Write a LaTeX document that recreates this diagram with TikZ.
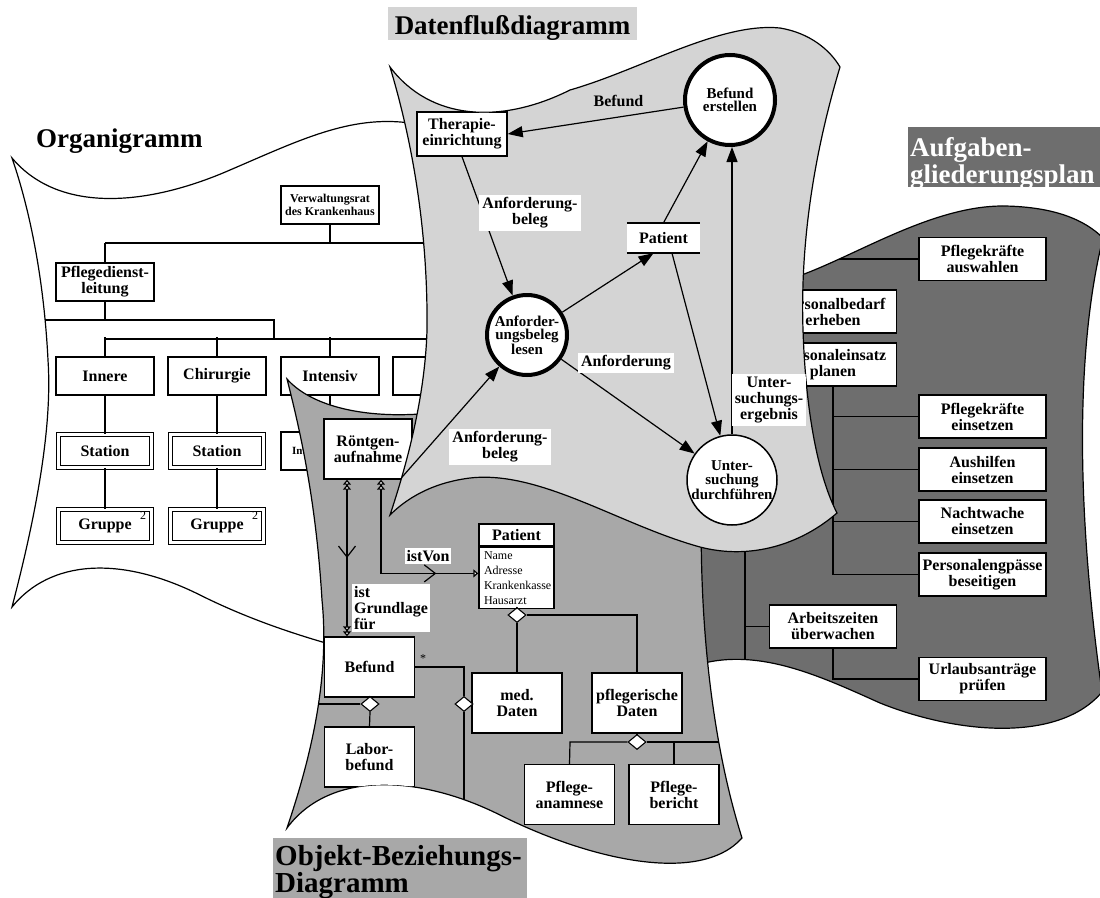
\documentclass[tikz,border=0pt]{standalone}
\usepackage{fontspec}
\setmainfont{Liberation Serif}
\usetikzlibrary{arrows.meta,shapes.geometric,decorations.markings}

\definecolor{dfgrey}{gray}{0.83}
\definecolor{obgrey}{gray}{0.66}
\definecolor{aggrey}{gray}{0.43}

\newcommand{\fsz}[2]{\fontsize{#1}{#2}\selectfont}

% outlines of the four sheets
\newcommand{\orgsheet}{(12,158) .. controls (60,215) and (150,205) .. (230,170) .. controls (300,140) and (350,115) .. (410,123) -- (450,130) -- (450,600) -- (340,647) .. controls (300,636) and (250,620) .. (200,595) .. controls (120,555) and (50,560) .. (12,607) .. controls (40,500) and (52,420) .. (48,360) .. controls (44,280) and (30,210) .. (12,158) -- cycle}
\newcommand{\agsheet}{(680,340) -- (790,279) .. controls (850,260) and (930,205) .. (1005,206) .. controls (1055,207) and (1085,220) .. (1103,238) .. controls (1080,330) and (1072,480) .. (1102,692) .. controls (1060,742) and (960,735) .. (880,703) .. controls (820,676) and (760,648) .. (700,664) -- (680,664) -- cycle}
\newcommand{\obsheet}{(287,379) .. controls (310,405) and (360,418) .. (420,414) -- (702,480) .. controls (698,600) and (708,730) .. (742,838) .. controls (700,885) and (590,860) .. (500,815) .. controls (420,775) and (330,770) .. (287,828) .. controls (310,760) and (330,680) .. (322,600) .. controls (316,500) and (300,430) .. (287,379) -- cycle}
\newcommand{\dfsheet}{(390,67) .. controls (430,120) and (500,125) .. (570,90) .. controls (640,70) and (720,22) .. (780,28) .. controls (810,33) and (830,50) .. (840,67) .. controls (815,150) and (800,240) .. (803,330) .. controls (806,420) and (820,480) .. (837,513) .. controls (800,545) and (750,560) .. (700,547) .. controls (620,525) and (540,470) .. (470,478) .. controls (430,483) and (405,500) .. (390,515) .. controls (405,470) and (425,400) .. (427,330) .. controls (428,240) and (415,150) .. (390,67) -- cycle}

\tikzset{
    wtri/.tip={Triangle[fill=white,length=5pt,width=8pt]},
    midv/.style={postaction={decorate, decoration={markings,
        mark=at position #1 with {\arrow{Straight Barb[length=11pt,width=17pt]}}}}}
}

\begin{document}
\begin{tikzpicture}[
    x=1pt, y=-1pt,
    >={Triangle[length=15pt,width=11pt]},
    font=\bfseries\fsz{16}{16},
    sheet/.style={draw, line width=1.2pt},
    link/.style={line width=1.2pt},
    box/.style={draw, fill=white, line width=1.4pt, inner sep=0pt, align=center,
                minimum width=98pt, minimum height=38pt},
    dbox/.style={box, double, double distance=2.5pt, line width=1pt,
                 minimum width=93pt, minimum height=33pt},
    tbox/.style={box, minimum width=127pt, minimum height=43pt},
    obox/.style={box, minimum width=90pt, minimum height=60pt},
    proc/.style={circle, draw, fill=white, line width=4pt, inner sep=0pt,
                 align=center, font=\bfseries\fsz{15}{13.5}},
    agg/.style={diamond, draw, fill=white, line width=1.1pt, inner sep=0pt,
                minimum width=18pt, minimum height=15pt},
    lbl/.style={fill=white, inner sep=3pt, align=center}
]
\useasboundingbox (0,0) rectangle (1100,897);

% Organigramm
\path[sheet, fill=white] \orgsheet;
\begin{scope}
    \clip \orgsheet;
    \node[box, font=\bfseries\fsz{12}{13}] (vrat) at (330,205) {Verwaltungsrat\\des Krankenhaus};
    \node[box] (pdl) at (105,282) {Pflegedienst-\\leitung};
    \node[box] (inn) at (105,376) {Innere};
    \node[box] (chi) at (217,376) {Chirurgie};
    \node[box] (ins) at (330,376) {Intensiv};
    \node[box] (dep) at (442,376) {};
    \node[dbox] (st1) at (105,451) {Station};
    \node[dbox] (st2) at (217,451) {Station};
    \node[box, align=left, text width=76pt, font=\bfseries\fsz{11}{12}] (st3) at (330,451) {Int};
    \node[dbox] (gr1) at (105,526) {Gruppe};
    \node[dbox] (gr2) at (217,526) {Gruppe};
    \node[font=\mdseries\fsz{12}{12}] (gr1n) at (143,516) {2};
    \node[font=\mdseries\fsz{12}{12}] (gr2n) at (255,516) {2};

    \draw[link] (vrat.south) -- (330,243);
    \draw[link] (105,243) -- (460,243);
    \draw[link] (105,243) -- (pdl.north);
    \draw[link] (pdl.south) -- (105,320);
    \draw[link] (0,320) -- (274,320) -- (274,339);
    \draw[link] (105,339) -- (460,339);
    \foreach \dept in {inn,chi,ins,dep}
        \draw[link] (\dept.north) -- ++(0,-19);
    \draw[link] (inn.south) -- (st1.north);
    \draw[link] (chi.south) -- (st2.north);
    \draw[link] (ins.south) -- (st3.north);
    \draw[link] (st1.south) -- (gr1.north);
    \draw[link] (st2.south) -- (gr2.north);
\end{scope}

% Aufgabengliederungsplan
\path[sheet, fill=aggrey] \agsheet;
\begin{scope}
    \clip \agsheet;
    \node[tbox] (pka) at (982.5,259) {Pflegekräfte\\auswahlen};
    \node[tbox] (pbe) at (833,311.5) {Personalbedarf\\erheben};
    \node[tbox] (pep) at (833,364.5) {Personaleinsatz\\planen};
    \node[tbox] (pke) at (982.5,416.5) {Pflegekräfte\\einsetzen};
    \node[tbox] (ahe) at (982.5,469.5) {Aushilfen\\einsetzen};
    \node[tbox] (nwe) at (982.5,521.5) {Nachtwache\\einsetzen};
    \node[tbox] (peb) at (982.5,574.5) {Personalengpässe\\beseitigen};
    \node[tbox] (azu) at (833,626.5) {Arbeitszeiten\\überwachen};
    \node[tbox] (uap) at (982.5,679) {Urlaubsanträge\\prüfen};

    \draw[link] (745,250) -- (745,720);
    \draw[link] (745,259) -- (pka.west);
    \draw[link] (745,311.5) -- (pbe.west);
    \draw[link] (745,364.5) -- (pep.west);
    \draw[link] (745,626.5) -- (azu.west);
    \draw[link] (pep.south) -- (833,574.5);
    \foreach \bx in {pke,ahe,nwe,peb}
        \draw[link] (\bx.west) -- ++(-86,0);
    \draw[link] (azu.south) -- (833,679) -- (uap.west);
\end{scope}

% Objekt-Beziehungs-Diagramm
\path[sheet, fill=obgrey] \obsheet;
\begin{scope}
    \clip \obsheet;
    \node[box, minimum width=88pt, minimum height=60pt] (roe) at (368,449) {Röntgen-\\aufnahme};
    \node[box, minimum width=75pt, minimum height=22pt] (patk) at (516.5,535) {Patient};
    \node[box, minimum width=75pt, minimum height=61pt, anchor=north, align=left,
          text width=65pt, font=\mdseries\fsz{12}{15}] (pata) at (patk.south)
          {Name\\Adresse\\Krankenkasse\\Hausarzt};
    \node[obox] (bef) at (369.5,667) {Befund};
    \node[obox] (lab) at (369.5,757) {Labor-\\befund};
    \node[obox] (med) at (517,703) {med.\\Daten};
    \node[obox] (pfl) at (637,703) {pflegerische\\Daten};
    \node[obox] (ana) at (569.5,794.5) {Pflege-\\anamnese};
    \node[obox] (ber) at (674,794.5) {Pflege-\\bericht};
    \node[agg] (dbef) at (370,704) {};
    \node[agg] (dpat) at (517,615) {};
    \node[agg] (dbf2) at (464,704) {};
    \node[agg] (dpfl) at (637,742) {};
    \node[font=\mdseries\fsz{12}{12}] (ast) at (423,659) {*};

    \draw[link] (bef.south) -- (dbef.north);
    \draw[link] (dbef.south) -- (lab.north);
    \draw[link] (dbef.west) -- (280,704);
    \draw[link] (bef.east) -- (464,667) -- (dbf2.north);
    \draw[link] (dbf2.south) -- (464,870);
    \draw[link] (pata.south) -- (dpat.north);
    \draw[link] (dpat.south) -- (med.north);
    \draw[link] (dpat.east) -- (637,615) -- (pfl.north);
    \draw[link] (pfl.south) -- (dpfl.north);
    \draw[link] (dpfl.west) -- (570,742) -- (ana.north);
    \draw[link] (dpfl.east) -- (760,742);
    \draw[link] (674,742) -- (ber.north);

    \node[lbl, align=left, inner sep=2pt] (lgr) at (391,608) {ist\\Grundlage\\für};
    \node[lbl, inner sep=2pt] (lvon) at (428,556) {istVon};
    \draw[link, {wtri[]wtri[]}-{wtri[]wtri[]}, midv=0.5]
        ([xshift=-21pt]roe.south) -- ([xshift=-22.5pt]bef.north);
    \draw[link, {wtri[]wtri[]}-{wtri[]}, midv=0.78]
        ([xshift=13pt]roe.south) |- ([yshift=4.5pt]pata.west);
\end{scope}

% Datenflussdiagramm
\path[sheet, fill=dfgrey] \dfsheet;
\begin{scope}
    \clip \dfsheet;
    \node[proc, minimum size=90pt] (bfe) at (730,100) {Befund\\erstellen};
    \node[box, minimum width=90pt, minimum height=44pt] (ther) at (462,134) {Therapie-\\einrichtung};
    \node[proc, minimum size=80pt] (anf) at (527,335) {Anforder-\\ungsbeleg\\lesen};
    \node[fill=white, inner sep=0pt, minimum width=73pt, minimum height=30pt] (pst) at (663.5,238) {Patient};
    \node[proc, line width=1.5pt, minimum size=90pt] (unt) at (732,480) {Unter-\\suchung\\durchführen};
    \coordinate (rtip) at (396,484);
    \draw[line width=2pt] (pst.north west) -- (pst.north east) (pst.south west) -- (pst.south east);

    \draw[link, ->] (bfe) -- node[pos=0.37, above=6pt] (lbef) {Befund} (ther.east);
    \draw[link, ->] (ther.south) -- (anf);
    \draw[link, ->] (anf) -- ([xshift=-10pt]pst.south);
    \draw[link, ->] (pst.north) -- (bfe);
    \draw[link, ->] ([xshift=8.5pt]pst.south) -- (unt);
    \draw[link, ->] (unt.north) -- (unt.north |- bfe.south);
    \draw[link, ->] (anf) -- (unt);
    \draw[link, ->] (rtip) -- (anf);

    \node[lbl] (lanf1) at (530,213) {Anforderung-\\beleg};
    \node[lbl] (lanf2) at (500,447) {Anforderung-\\beleg};
    \node[lbl] (lanf3) at (626,363) {Anforderung};
    \node[lbl] (lerg) at (769,400) {Unter-\\suchungs-\\ergebnis};
\end{scope}

% titles
\node[anchor=base west, inner sep=0pt, font=\bfseries\fsz{27}{27}] (torg) at (36,147) {Organigramm};
\fill[dfgrey] (388,7) rectangle (637,40);
\node[anchor=base, inner sep=0pt, font=\bfseries\fsz{27}{27}] (tdf) at (512.5,34) {Datenflußdiagramm};
\fill[aggrey] (908,127) rectangle (1102,187);
\node[anchor=north west, inner sep=0pt, align=left, text=white, font=\bfseries\fsz{27}{27}] (tag) at (910,137) {Aufgaben-\\gliederungsplan};
\fill[obgrey] (273,838) rectangle (527,899);
\node[anchor=north west, inner sep=0pt, align=left, font=\bfseries\fsz{29}{22}] (tob) at (275,845) {Objekt-Beziehungs-\\Diagramm};
\end{tikzpicture}
\end{document}
